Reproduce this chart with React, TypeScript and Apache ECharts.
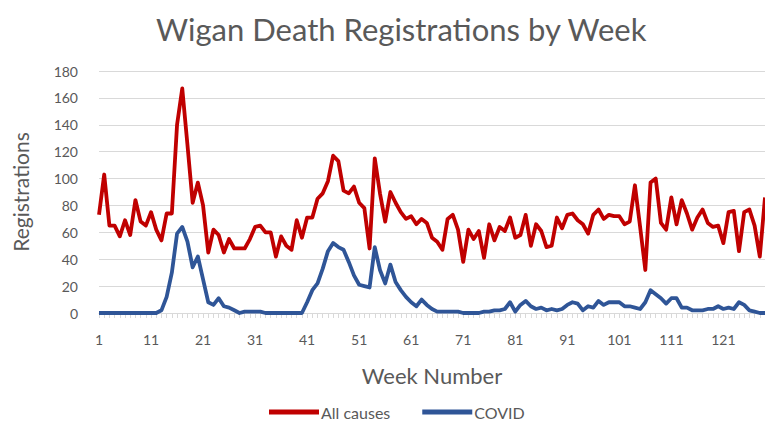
import React, { useEffect, useRef } from "react";
import * as echarts from "echarts";

const weeks: string[] = Array.from({ length: 129 }, (_, i) => String(i + 1));

const allCauses: number[] = [
  73, 103, 65, 65, 57, 69, 58, 84, 68, 65,
  75, 62, 54, 74, 74, 140, 167, 125, 82, 97,
  80, 45, 62, 58, 45, 55, 48, 48, 48, 55,
  64, 65, 60, 60, 42, 57, 50, 47, 69, 56,
  71, 71, 85, 89, 98, 117, 113, 91, 89, 94,
  82, 78, 48, 115, 89, 68, 90, 82, 75, 70,
  72, 66, 70, 67, 56, 53, 47, 70, 73, 62,
  38, 62, 55, 61, 41, 66, 54, 64, 61, 71,
  56, 58, 73, 50, 66, 61, 49, 50, 71, 63,
  73, 74, 69, 66, 59, 73, 77, 70, 73, 72,
  72, 66, 68, 95, 64, 32, 97, 100, 67, 62,
  86, 66, 84, 74, 62, 71, 77, 67, 64, 65,
  52, 75, 76, 46, 75, 77, 65, 42, 86,
];

const covid: number[] = [
  0, 0, 0, 0, 0, 0, 0, 0, 0, 0,
  0, 0, 2, 12, 30, 59, 64, 53, 34, 42,
  25, 8, 6, 11, 5, 4, 2, 0, 1, 1,
  1, 1, 0, 0, 0, 0, 0, 0, 0, 0,
  8, 17, 22, 33, 46, 52, 49, 47, 38, 28,
  21, 20, 19, 49, 32, 22, 36, 23, 17, 12,
  8, 5, 10, 6, 3, 1, 1, 1, 1, 1,
  0, 0, 0, 0, 1, 1, 2, 2, 3, 8,
  1, 6, 9, 5, 3, 4, 2, 3, 2, 3,
  6, 8, 7, 2, 5, 4, 9, 6, 8, 8,
  8, 5, 5, 4, 3, 8, 17, 14, 11, 7,
  11, 11, 4, 4, 2, 2, 2, 3, 3, 5,
  3, 4, 3, 8, 6, 2, 1, 0, 0,
];

const yTicks = { min: 0, max: 180, interval: 20 };

const FONT = "Lato, 'Noto Sans', sans-serif";
const TEXT = "#595959";
const GRID = "#d9d9d9";

export default function App() {
  const ref = useRef<HTMLDivElement>(null);
  useEffect(() => {
    if (!ref.current) return;
    const chart = echarts.init(ref.current, undefined, { renderer: "svg" });
    chart.setOption({
      animation: false,
      backgroundColor: "#ffffff",
      textStyle: { fontFamily: FONT },
      title: {
        text: "Wigan Death Registrations by Week",
        left: 151,
        top: 8,
        textStyle: { fontFamily: FONT, fontSize: 31, fontWeight: "normal", color: TEXT },
      },
      legend: {
        left: 264,
        top: 399,
        icon: "rect",
        itemWidth: 50,
        itemHeight: 5,
        itemGap: 32,
        textStyle: { fontFamily: FONT, fontSize: 16, color: TEXT, padding: [0, 0, 0, -3] },
        data: ["All causes", "COVID"],
      },
      grid: { left: 99, right: -1, top: 71, bottom: 110, containLabel: false },
      xAxis: {
        type: "category",
        data: weeks,
        boundaryGap: false,
        name: "Week Number",
        nameLocation: "middle",
        nameGap: 51,
        nameTextStyle: { fontFamily: FONT, fontSize: 22, color: TEXT },
        axisLine: { lineStyle: { color: GRID, width: 1 } },
        axisTick: { show: true, interval: 0, length: 5, lineStyle: { color: GRID } },
        axisLabel: { interval: 9, color: TEXT, fontFamily: FONT, fontSize: 14, margin: 19 },
        splitLine: { show: false },
      },
      yAxis: {
        type: "value",
        min: yTicks.min,
        max: yTicks.max,
        interval: yTicks.interval,
        name: "Registrations",
        nameLocation: "middle",
        nameRotate: 90,
        nameGap: 68,
        nameTextStyle: { fontFamily: FONT, fontSize: 21, color: TEXT },
        axisLine: { show: false },
        axisTick: { show: false },
        axisLabel: { color: TEXT, fontFamily: FONT, fontSize: 14, margin: 21 },
        splitLine: { lineStyle: { color: GRID, width: 1 } },
      },
      series: [
        {
          name: "All causes",
          type: "line",
          data: allCauses,
          showSymbol: false,
          symbol: "none",
          color: "#C00000",
          lineStyle: { color: "#C00000", width: 3.8, join: "round" },
        },
        {
          name: "COVID",
          type: "line",
          data: covid,
          showSymbol: false,
          symbol: "none",
          color: "#2F5597",
          lineStyle: { color: "#2F5597", width: 3.8, join: "round" },
        },
      ],
    });
    return () => chart.dispose();
  }, []);
  return (
    <div
      ref={ref}
      style={{ position: "fixed", left: 0, top: 0, width: 765, height: 423, background: "#fff" }}
    />
  );
}
